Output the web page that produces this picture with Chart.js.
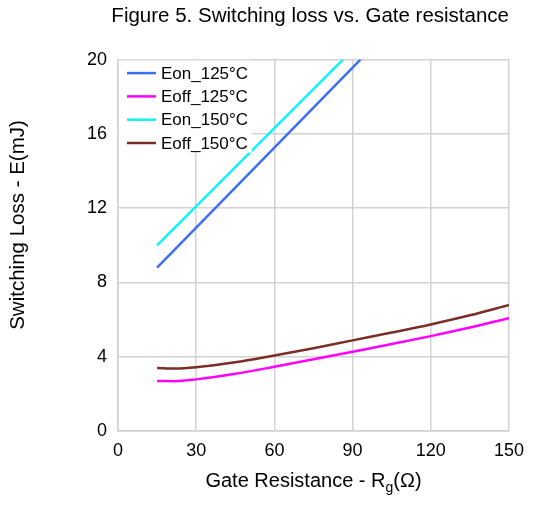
<!DOCTYPE html>
<html>
<head>
<meta charset="utf-8">
<script src="https://cdn.jsdelivr.net/npm/chart.js@4/dist/chart.umd.min.js"></script>
<style>
  html, body { margin: 0; padding: 0; background: #fff; }
  #wrap { width: 538px; height: 507px; }
</style>
</head>
<body>
<div id="wrap"><canvas id="chart" width="538" height="507"></canvas></div>
<script>
// values (Rg in ohm, E in mJ)
const rgEon125 = [15, 93];
const eon125 = [8.8, 20];
const rgEon150 = [15, 86.3];
const eon150 = [10, 20];
const rgEoff = [15, 22, 30, 45, 60, 75, 90, 105, 120, 135, 150];
const eoff125 = [2.69, 2.68, 2.78, 3.08, 3.46, 3.86, 4.27, 4.68, 5.11, 5.57, 6.08];
const eoff150 = [3.39, 3.36, 3.43, 3.70, 4.07, 4.46, 4.88, 5.30, 5.74, 6.23, 6.79];
const seriesNames = ['Eon_125°C', 'Eoff_125°C', 'Eon_150°C', 'Eoff_150°C'];
const seriesColors = ['#3f6ef0', '#ff00ff', '#10f4f4', '#7a2e26'];

const FONT = "'Liberation Sans', Arial, sans-serif";

function toPoints(xs, ys) {
    return xs.map((x, i) => ({x: x, y: ys[i]}));
}

function makeSet(i, xs, ys, smooth) {
    return {
        label: seriesNames[i],
        data: toPoints(xs, ys),
        borderColor: seriesColors[i],
        backgroundColor: seriesColors[i],
        borderWidth: 2.5,
        pointRadius: 0,
        showLine: true,
        fill: false,
        tension: smooth ? 0.4 : 0,
        cubicInterpolationMode: smooth ? 'monotone' : 'default'
    };
}

// legend box drawn inside the plot, top-left
const innerLegend = {
    id: 'innerLegend',
    afterDatasetsDraw(chart) {
        const ctx = chart.ctx;
        const a = chart.chartArea;
        ctx.save();
        ctx.fillStyle = '#fff';
        ctx.fillRect(a.left + 1, a.top + 1, 133, 92);
        ctx.font = '17px ' + FONT;
        ctx.textBaseline = 'middle';
        ctx.textAlign = 'left';
        chart.data.datasets.forEach((ds, i) => {
            const y = a.top + 13.5 + i * 23.3;
            ctx.strokeStyle = ds.borderColor;
            ctx.lineWidth = 2.5;
            ctx.beginPath();
            ctx.moveTo(a.left + 9, y);
            ctx.lineTo(a.left + 38, y);
            ctx.stroke();
            ctx.fillStyle = '#000';
            ctx.fillText(ds.label, a.left + 43, y + 1);
        });
        ctx.restore();
    }
};

// axis titles: x has a subscript g, y sits a bit above the middle
const axisTitles = {
    id: 'axisTitles',
    afterDraw(chart) {
        const ctx = chart.ctx;
        const a = chart.chartArea;
        const p1 = 'Gate Resistance - R', p2 = 'g', p3 = '(Ω)';
        ctx.save();
        ctx.fillStyle = '#000';
        ctx.textBaseline = 'alphabetic';
        ctx.textAlign = 'left';
        ctx.font = '20px ' + FONT;
        const w1 = ctx.measureText(p1).width, w3 = ctx.measureText(p3).width;
        ctx.font = '14px ' + FONT;
        const w2 = ctx.measureText(p2).width;
        let x = (a.left + a.right) / 2 - (w1 + w2 + w3) / 2;
        const y = 487;
        ctx.font = '20px ' + FONT;
        ctx.fillText(p1, x, y);
        x += w1;
        ctx.font = '14px ' + FONT;
        ctx.fillText(p2, x, y + 5);
        x += w2;
        ctx.font = '20px ' + FONT;
        ctx.fillText(p3, x, y);

        ctx.translate(18, 225);
        ctx.rotate(-Math.PI / 2);
        ctx.textAlign = 'center';
        ctx.textBaseline = 'middle';
        ctx.font = '20.5px ' + FONT;
        ctx.fillText('Switching Loss - E(mJ)', 0, 0);
        ctx.restore();
    }
};

const config = {
    type: 'scatter',
    data: {
        datasets: [
            makeSet(0, rgEon125, eon125, false),
            makeSet(1, rgEoff, eoff125, true),
            makeSet(2, rgEon150, eon150, false),
            makeSet(3, rgEoff, eoff150, true)
        ]
    },
    options: {
        responsive: false,
        animation: false,
        layout: { padding: { left: 0, right: 29, top: 0, bottom: 0 } },
        plugins: {
            legend: { display: false },
            tooltip: { enabled: false },
            title: {
                display: true,
                text: 'Figure 5. Switching loss vs. Gate resistance',
                align: 'end',
                color: '#000',
                font: { family: FONT, size: 20.5, weight: 'normal' },
                padding: { top: 4, bottom: 31 }
            }
        },
        scales: {
            x: {
                type: 'linear',
                min: 0,
                max: 150,
                ticks: { stepSize: 30, color: '#000', padding: 9, font: { family: FONT, size: 18 } },
                grid: { color: '#d2d2d2', lineWidth: 1.5, drawTicks: false },
                border: { color: '#d2d2d2', width: 1.5 },
                afterFit: s => { s.height = 76; }
            },
            y: {
                min: 0,
                max: 20,
                ticks: { stepSize: 4, color: '#000', padding: 11, font: { family: FONT, size: 18 } },
                grid: { color: '#d2d2d2', lineWidth: 1.5, drawTicks: false },
                border: { color: '#d2d2d2', width: 1.5 },
                afterFit: s => { s.width = 118; }
            }
        }
    },
    plugins: [innerLegend, axisTitles]
};

window.onload = function () {
    window.myChart = new Chart(document.getElementById('chart').getContext('2d'), config);
};
</script>
</body>
</html>
